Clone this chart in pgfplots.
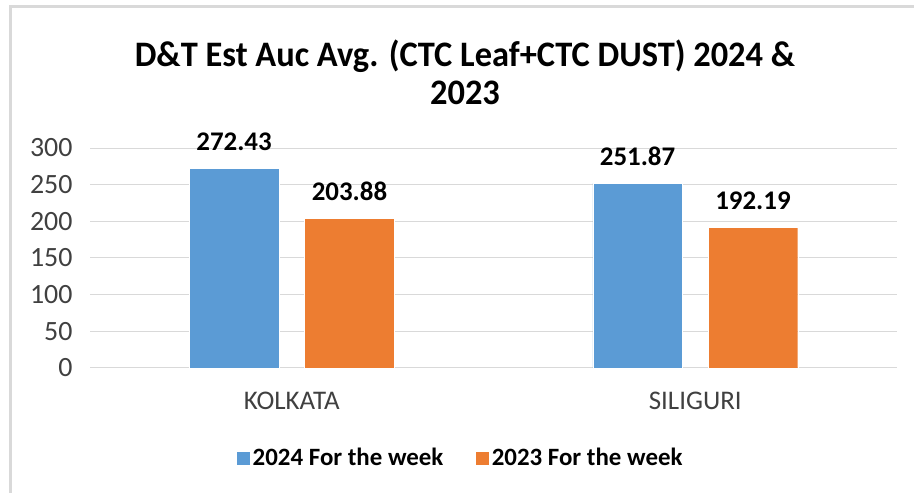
\documentclass[border=0pt]{standalone}
\usepackage{pgfplots}
\pgfplotsset{compat=1.18}
\usepackage{fontspec}
\setmainfont{Carlito}
\definecolor{cblue}{HTML}{5B9BD5}
\definecolor{corange}{HTML}{ED7D31}
\definecolor{cgrid}{HTML}{D9D9D9}
\definecolor{ctick}{HTML}{404040}
\begin{document}
\begin{tikzpicture}
\path[use as bounding box] (0,0) rectangle (914bp,493bp);
\fill[white] (0,0) rectangle (914bp,493bp);
\draw[cgrid, line width=3bp] (10bp,0) -- (10bp,486bp) -- (914bp,486bp);
\node[font=\bfseries\fontsize{36}{38}\selectfont, align=center, xscale=0.96] at (465bp,421bp) {D\&T Est Auc Avg. (CTC Leaf+CTC DUST) 2024 \&\\2023};
\begin{axis}[
  ybar,
  at={(90bp,125bp)}, anchor=south west,
  scale only axis, width=807bp, height=220bp,
  xmin=-0.5, xmax=1.5, ymin=0, ymax=300,
  xtick={0,1}, xticklabels={KOLKATA,SILIGURI},
  ytick={0,50,100,150,200,250,300},
  ymajorgrids, grid style={cgrid, line width=1bp},
  axis line style={draw=none},
  tick style={draw=none},
  /pgf/number format/assume math mode=true,
  ticklabel style={font=\fontsize{28}{30}\selectfont, text=ctick},
  yticklabel style={xshift=-14bp},
  xticklabel style={yshift=-16bp, font=\fontsize{27}{30}\selectfont},
  bar width=0.222,
  nodes near coords,
  nodes near coords style={font=\bfseries\fontsize{27}{30}\selectfont, text=black, anchor=south, yshift=14bp, /pgf/number format/.cd, fixed, precision=2, fixed zerofill},
  legend style={at={(0.459,-0.409)}, anchor=center, draw=none, font=\bfseries\fontsize{25}{28}\selectfont, legend columns=2, /tikz/every even column/.append style={column sep=30bp}, /tikz/every odd column/.append style={column sep=0bp}},
  legend image code/.code={\fill[#1] (0bp,-7bp) rectangle (14bp,7bp);},
]
\addplot[fill=cblue, draw=white, bar shift=-0.143] coordinates {(0,272.43) (1,251.87)};
\addplot[fill=corange, draw=white, bar shift=0.143] coordinates {(0,203.88) (1,192.19)};
\legend{2024 For the week, 2023 For the week}
\end{axis}
\end{tikzpicture}
\end{document}
